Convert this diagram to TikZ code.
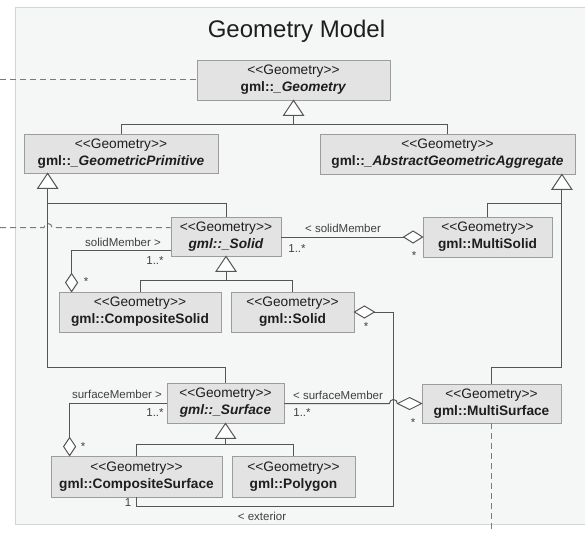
\documentclass[tikz,border=0pt]{standalone}
\usepackage{fontspec}
\setmainfont{Liberation Sans}
\usetikzlibrary{calc}
\definecolor{bgc}{HTML}{F5F6F6}
\definecolor{framec}{HTML}{D4D6D6}
\definecolor{boxc}{HTML}{E3E3E3}
\definecolor{boxb}{HTML}{9C9C9C}
\definecolor{linec}{HTML}{555555}
\definecolor{dashc}{HTML}{7A7A7A}
\definecolor{txtc}{HTML}{1E1E1E}
\newcommand{\stereo}{<\kern0pt<Geometry>\kern0pt>}
\begin{document}
\begin{tikzpicture}[x=1pt,y=-1pt,
  cls/.style={draw=boxb, fill=boxc, line width=0.8pt, inner sep=0pt, align=center,
    font=\fontsize{13.7}{17}\selectfont, text=txtc},
  conn/.style={draw=linec, line width=1pt},
  dashconn/.style={draw=dashc, line width=1pt, dash pattern=on 6pt off 4pt},
  tri/.style={draw=linec, fill=white, line width=1pt, line join=miter},
  dia/.style={draw=linec, fill=white, line width=1pt, line join=miter},
  lbl/.style={font=\fontsize{11.5}{13}\selectfont, text=txtc!85!white, inner sep=0pt}
]
\useasboundingbox (0,0) rectangle (585,532);
\fill[white] (0,0) rectangle (585,532);
\draw[fill=bgc, draw=framec, line width=1pt] (15,7.5) rectangle (600,524);

\node[font=\fontsize{24}{28}\selectfont, text=txtc] (title) at (296.5,31) {Geometry Model};

% classes
\node[cls, minimum width=193pt, minimum height=40pt] (Geo) at (293.5,80)
  {\stereo\\\textbf{gml::\textit{\_Geometry}}};
\node[cls, minimum width=194pt, minimum height=39pt] (GP) at (121,153.5)
  {\stereo\\\textbf{gml::\textit{\_GeometricPrimitive}}};
\node[cls, minimum width=255pt, minimum height=40pt] (AGA) at (447.5,154)
  {\stereo\\\textbf{gml::\textit{\_AbstractGeometricAggregate}}};
\node[cls, minimum width=110pt, minimum height=39pt] (SolidA) at (226,236.5)
  {\stereo\\\textbf{\textit{gml::\_Solid}}};
\node[cls, minimum width=129pt, minimum height=40pt] (MSolid) at (487.5,237)
  {\stereo\\\textbf{gml::MultiSolid}};
\node[cls, minimum width=162pt, minimum height=40pt] (CSolid) at (140,312)
  {\stereo\\\textbf{gml::CompositeSolid}};
\node[cls, minimum width=123pt, minimum height=40pt] (Solid) at (292.5,312)
  {\stereo\\\textbf{gml::Solid}};
\node[cls, minimum width=117pt, minimum height=40pt] (SurfA) at (225.5,403)
  {\stereo\\\textbf{\textit{gml::\_Surface}}};
\node[cls, minimum width=139pt, minimum height=39pt] (MSurf) at (491.5,403.5)
  {\stereo\\\textbf{gml::MultiSurface}};
\node[cls, minimum width=171pt, minimum height=41pt] (CSurf) at (136.5,476.5)
  {\stereo\\\textbf{gml::CompositeSurface}};
\node[cls, minimum width=123pt, minimum height=41pt] (Poly) at (293.5,476.5)
  {\stereo\\\textbf{gml::Polygon}};

% dashed lines
\coordinate (dA) at (0,80);
\draw[dashconn] (dA) -- (Geo.west);
\coordinate (dB) at (0,227.5);
\draw[dashconn] (dB) -- (44,227.5) arc (180:360:4) -- (SolidA.west |- dB);
\coordinate (dC) at (491.5,532);
\draw[dashconn] (MSurf.south) -- (dC);

% generalisation: Geometry
\coordinate (tGeo) at (Geo.south);
\draw[conn] ($(tGeo)+(0,15)$) -- ++(0,9) coordinate (jGeo);
\draw[conn] (GP.north) |- (jGeo) -| (AGA.north);
\draw[tri] (tGeo) -- ++(-10,15) -- ++(20,0) -- cycle;

% generalisation: GeometricPrimitive
\coordinate (tGP) at ($(GP.south west)+(24,0)$);
\draw[conn] (SolidA.north) -- ++(0,-13) -| ($(tGP)+(0,15)$);
\draw[conn] (SurfA.north) -- ++(0,-15) -| ($(tGP)+(0,15)$);
\draw[tri] (tGP) -- ++(-10,15) -- ++(20,0) -- cycle;

% generalisation: AbstractGeometricAggregate
\coordinate (tAGA) at ($(AGA.south east)+(-13.5,0)$);
\draw[conn] (MSolid.north) -- ++(0,-13) -| ($(tAGA)+(0,15)$);
\draw[conn] (MSurf.north) -- ++(0,-16) -| ($(tAGA)+(0,15)$);
\draw[tri] (tAGA) -- ++(-10,15) -- ++(20,0) -- cycle;

% generalisation: _Solid
\coordinate (tS) at (SolidA.south);
\draw[conn] (CSolid.north) -- ++(0,-11) -| ($(tS)+(0,15)$);
\draw[conn] (Solid.north) -- ++(0,-11) -| ($(tS)+(0,15)$);
\draw[tri] (tS) -- ++(-10,15) -- ++(20,0) -- cycle;

% generalisation: _Surface
\coordinate (tSf) at (SurfA.south);
\draw[conn] (CSurf.north) -- ++(0,-11) -| ($(tSf)+(0,15)$);
\draw[conn] (Poly.north) -- ++(0,-11) -| ($(tSf)+(0,15)$);
\draw[tri] (tSf) -- ++(-10,15) -- ++(20,0) -- cycle;

% aggregation: CompositeSolid solidMember
\coordinate (dCS) at ($(CSolid.north west)+(13,0)$);
\draw[conn] ($(dCS)+(0,-18)$) |- ($(SolidA.west)+(0,14)$);
\draw[dia] (dCS) -- ++(-6,-9) -- ++(6,-9) -- ++(6,9) -- cycle;
\node[lbl] (l1) at (123,242) {solidMember >};
\node[lbl] (l2) at (155,261) {1..*};
\node[lbl] (l3) at (86,282) {*};

% aggregation: MultiSolid solidMember
\coordinate (dMS) at (MSolid.west);
\draw[conn] (SolidA.east |- dMS) -- ($(dMS)+(-19,0)$);
\draw[dia] (dMS) -- ++(-9.5,-6) -- ++(-9.5,6) -- ++(9.5,6) -- cycle;
\node[lbl] (l4) at (343,228) {< solidMember};
\node[lbl] (l5) at (297,249) {1..*};
\node[lbl] (l6) at (414,256) {*};

% aggregation: Solid exterior
\coordinate (dSo) at (Solid.east);
\draw[conn] ($(dSo)+(20,0)$) -- ++(19,0) coordinate (xExt) |- ($(CSurf.south)+(0,9)$) -- (CSurf.south);
\draw[dia] (dSo) -- ++(10,-6) -- ++(10,6) -- ++(-10,6) -- cycle;
\node[lbl] (l7) at (366,327) {*};
\node[lbl] (l8) at (128,503) {1};
\node[lbl] (l9) at (262,516) {< exterior};

% aggregation: CompositeSurface surfaceMember
\coordinate (dCSf) at ($(CSurf.north west)+(19,0)$);
\draw[conn] ($(dCSf)+(0,-18)$) |- (SurfA.west);
\draw[dia] (dCSf) -- ++(-6,-9) -- ++(6,-9) -- ++(6,9) -- cycle;
\node[lbl] (l10) at (117,394) {surfaceMember >};
\node[lbl] (l11) at (155,413) {1..*};
\node[lbl] (l12) at (83,447) {*};

% aggregation: MultiSurface surfaceMember
\coordinate (dMSf) at (MSurf.west);
\draw[conn] (SurfA.east |- dMSf) -- ($(xExt |- dMSf)+(-4,0)$) arc (180:360:4) -- ($(dMSf)+(-24,0)$);
\draw[dia] (dMSf) -- ++(-12,-6) -- ++(-12,6) -- ++(12,6) -- cycle;
\node[lbl] (l13) at (338,395) {< surfaceMember};
\node[lbl] (l14) at (302,413) {1..*};
\node[lbl] (l15) at (413,423) {*};
\end{tikzpicture}
\end{document}
